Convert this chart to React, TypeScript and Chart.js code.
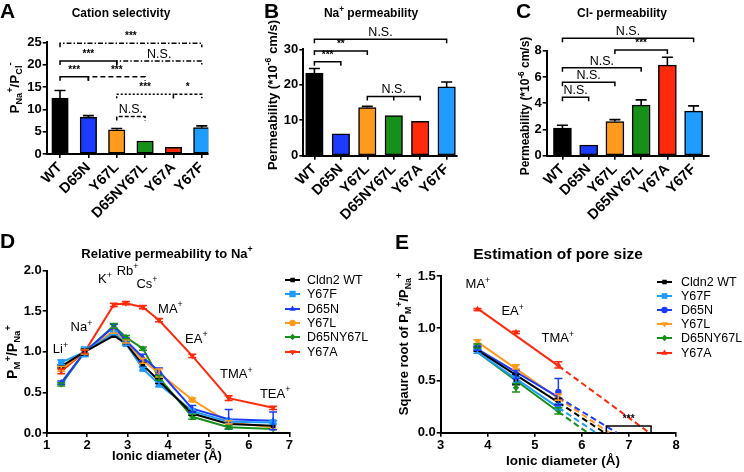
import React, { useEffect, useRef } from 'react';
import { Chart, registerables } from 'chart.js';

Chart.register(...registerables);

const FONT = 'Arial, "Liberation Sans", Helvetica, sans-serif';
const W = 744;
const H = 472;

// ---------- categories ----------
const MUTANTS = ['WT', 'D65N', 'Y67L', 'D65NY67L', 'Y67A', 'Y67F'];
const MUTANT_COLORS = ['#000000', '#1b3cff', '#ff9a1c', '#17901a', '#ff2a0c', '#1e9cff'];

// ---------- panel A: cation selectivity ----------
const SELECTIVITY = [12.5, 8.2, 5.4, 2.9, 1.5, 5.9];
const SELECTIVITY_TOP = [14.2, 8.6, 5.7, 3.1, 1.6, 6.3];

// ---------- panel B: Na permeability ----------
const NA_PERM = [23.3, 6.2, 13.6, 11.3, 9.7, 19.4];
const NA_PERM_TOP = [24.6, 6.3, 13.9, 11.5, 9.9, 20.8];

// ---------- panel C: Cl permeability ----------
const CL_PERM = [2.1, 0.8, 2.6, 3.85, 6.9, 3.4];
const CL_PERM_TOP = [2.32, 0.85, 2.75, 4.25, 7.5, 3.8];

type Bracket = { from: number; to: number; level: number; label: string; dash: number[]; mid?: number };

const SEL_BRACKETS: Bracket[] = [
  { from: 0, to: 5, level: 24.8, label: '***', dash: [5, 2, 1.5, 2] },
  { from: 0, to: 2, level: 20.8, label: '***', dash: [] },
  { from: 2, to: 5, level: 20.8, label: 'N.S.', dash: [5, 2, 1.5, 2] },
  { from: 0, to: 1, level: 17.3, label: '***', dash: [] },
  { from: 1, to: 3, level: 17.3, label: '***', dash: [5, 3] },
  { from: 2, to: 4, level: 13.4, label: '***', dash: [2, 2] },
  { from: 4, to: 5, level: 13.4, label: '*', dash: [3, 2] },
  { from: 2, to: 3, level: 8.4, label: 'N.S.', dash: [4, 2] },
];
const NA_BRACKETS: Bracket[] = [
  { from: 0, to: 5, level: 32.8, label: 'N.S.', dash: [] },
  { from: 0, to: 2, level: 29.5, label: '**', dash: [] },
  { from: 0, to: 1, level: 26.5, label: '***', dash: [] },
  { from: 2, to: 4, level: 16.7, label: 'N.S.', dash: [], mid: 3 },
];
const CL_BRACKETS: Bracket[] = [
  { from: 0, to: 5, level: 8.94, label: 'N.S.', dash: [] },
  { from: 2, to: 4, level: 8.05, label: '***', dash: [] },
  { from: 0, to: 3, level: 6.7, label: 'N.S.', dash: [] },
  { from: 0, to: 2, level: 5.6, label: 'N.S.', dash: [] },
  { from: 0, to: 1, level: 4.45, label: 'N.S.', dash: [] },
];

// ---------- panel D: relative permeability ----------
const SERIES = ['Cldn2 WT', 'Y67F', 'D65N', 'Y67L', 'D65NY67L', 'Y67A'];
const SERIES_COLORS = ['#000000', '#1e9cff', '#1b3cff', '#ff9a1c', '#17901a', '#ff2a0c'];
const IONS = ['Li', 'Na', 'K', 'Rb', 'Cs', 'MA', 'EA', 'TMA', 'TEA'];
const ION_DIAMETER = [1.36, 1.94, 2.66, 2.96, 3.38, 3.78, 4.6, 5.5, 6.6];
const REL_PERM = [
  [0.82, 1.0, 1.2, 1.1, 0.84, 0.64, 0.24, 0.11, 0.09],
  [0.87, 1.0, 1.23, 1.1, 0.79, 0.6, 0.27, 0.14, 0.13],
  [0.62, 1.0, 1.31, 1.14, 0.93, 0.76, 0.3, 0.17, 0.15],
  [0.79, 1.0, 1.26, 1.13, 0.89, 0.74, 0.41, 0.13, 0.07],
  [0.6, 1.0, 1.32, 1.18, 1.04, 0.68, 0.2, 0.07, 0.05],
  [0.76, 1.0, 1.58, 1.6, 1.55, 1.39, 0.95, 0.43, 0.31],
];
const REL_PERM_ERR = [
  [0.02, 0.04, 0.02, 0.02, 0.03, 0.03, 0.02, 0.01, 0.01],
  [0.03, 0.06, 0.02, 0.02, 0.02, 0.03, 0.03, 0.02, 0.02],
  [0.02, 0.03, 0.03, 0.03, 0.04, 0.04, 0.04, 0.12, 0.11],
  [0.03, 0.03, 0.03, 0.02, 0.03, 0.05, 0.02, 0.02, 0.01],
  [0.02, 0.02, 0.03, 0.02, 0.02, 0.03, 0.03, 0.02, 0.01],
  [0.03, 0.02, 0.02, 0.02, 0.02, 0.02, 0.02, 0.03, 0.02],
];
// ion label anchors (data coordinates)
const ION_LABEL_X = [1.34, 1.86, 2.44, 3.0, 3.48, 4.06, 4.7, 5.69, 6.65];
const ION_LABEL_Y = [1.04, 1.31, 1.9, 2.01, 1.85, 1.54, 1.17, 0.73, 0.49];

// ---------- panel E: pore size ----------
const PORE_IONS = ['MA', 'EA', 'TMA'];
const PORE_X = [3.78, 4.6, 5.5];
const SQRT_PERM = [
  [0.8, 0.51, 0.3],
  [0.78, 0.5, 0.25],
  [0.81, 0.56, 0.39],
  [0.87, 0.63, 0.34],
  [0.83, 0.43, 0.21],
  [1.18, 0.96, 0.65],
];
const SQRT_PERM_ERR = [
  [0.02, 0.05, 0.03],
  [0.02, 0.03, 0.03],
  [0.02, 0.04, 0.13],
  [0.02, 0.02, 0.03],
  [0.02, 0.04, 0.03],
  [0.01, 0.01, 0.03],
];
const FIT_START = [0.79, 0.77, 0.8, 0.87, 0.77, 1.19];
const FIT_END = [0.29, 0.24, 0.34, 0.33, 0.2, 0.64];
const FIT_X0 = [6.48, 6.3, 6.74, 6.58, 6.12, 7.43];
const PORE_LABEL_X = [3.79, 4.53, 5.49];
const PORE_LABEL_Y = [1.43, 1.17, 0.91];
const PORE_BRACKET = { from: 6.52, to: 7.47, level: 0.065, label: '***' };

// ---------- helpers ----------
type Seg = { t: string; k: 'n' | 'sup' | 'sub' };
function parseRich(s: string): Seg[] {
  const out: Seg[] = [];
  const re = /([_^])\{([^}]*)\}/g;
  let last = 0;
  let m: RegExpExecArray | null;
  while ((m = re.exec(s))) {
    if (m.index > last) out.push({ t: s.slice(last, m.index), k: 'n' });
    out.push({ t: m[2], k: m[1] === '^' ? 'sup' : 'sub' });
    last = re.lastIndex;
  }
  if (last < s.length) out.push({ t: s.slice(last), k: 'n' });
  return out;
}

function drawRich(
  ctx: CanvasRenderingContext2D,
  text: string,
  x: number,
  y: number,
  size: number,
  bold: boolean,
  align: 'left' | 'center' | 'right' = 'center'
) {
  const segs = parseRich(text);
  const sm = size * 0.68;
  const font = (s: number) => `${bold ? 'bold ' : ''}${s}px ${FONT}`;
  let w = 0;
  for (const g of segs) {
    ctx.font = font(g.k === 'n' ? size : sm);
    w += ctx.measureText(g.t).width;
  }
  let cx = align === 'center' ? x - w / 2 : align === 'right' ? x - w : x;
  const base = y + size * 0.36;
  ctx.textAlign = 'left';
  ctx.textBaseline = 'alphabetic';
  ctx.fillStyle = '#000';
  for (const g of segs) {
    const s = g.k === 'n' ? size : sm;
    ctx.font = font(s);
    const dy = g.k === 'sup' ? -size * 0.42 : g.k === 'sub' ? size * 0.24 : 0;
    ctx.fillText(g.t, cx, base + dy);
    cx += ctx.measureText(g.t).width;
  }
}

function drawRotated(ctx: CanvasRenderingContext2D, text: string, x: number, y: number, size: number) {
  ctx.save();
  ctx.translate(x, y);
  ctx.rotate(-Math.PI / 2);
  drawRich(ctx, text, 0, 0, size, true, 'center');
  ctx.restore();
}

function drawLetter(ctx: CanvasRenderingContext2D, letter: string, x: number, baseline: number) {
  ctx.save();
  ctx.font = `bold 21px ${FONT}`;
  ctx.fillStyle = '#000';
  ctx.textAlign = 'left';
  ctx.textBaseline = 'alphabetic';
  ctx.fillText(letter, x, baseline);
  ctx.restore();
}

type Marker = { style: string; r: number; rot?: number };

function drawMarker(ctx: CanvasRenderingContext2D, m: Marker, x: number, y: number, color: string) {
  const r = m.r;
  ctx.save();
  ctx.fillStyle = color;
  ctx.beginPath();
  if (m.style === 'rect') {
    const s = r * Math.SQRT1_2;
    ctx.rect(x - s, y - s, 2 * s, 2 * s);
  } else if (m.style === 'circle') {
    ctx.arc(x, y, r, 0, Math.PI * 2);
  } else if (m.style === 'rectRot') {
    ctx.moveTo(x, y - r);
    ctx.lineTo(x + r, y);
    ctx.lineTo(x, y + r);
    ctx.lineTo(x - r, y);
    ctx.closePath();
  } else {
    const down = (m.rot || 0) === 180 ? -1 : 1;
    ctx.moveTo(x, y - down * r);
    ctx.lineTo(x + r * 0.87, y + down * r * 0.5);
    ctx.lineTo(x - r * 0.87, y + down * r * 0.5);
    ctx.closePath();
  }
  ctx.fill();
  ctx.restore();
}

const D_MARKERS: Marker[] = [
  { style: 'rect', r: 3.2 },
  { style: 'rect', r: 4.5 },
  { style: 'triangle', r: 3.6 },
  { style: 'circle', r: 3.2 },
  { style: 'rectRot', r: 3.2 },
  { style: 'triangle', r: 3.6, rot: 180 },
];
const E_MARKERS: Marker[] = [
  { style: 'rect', r: 3.2 },
  { style: 'rect', r: 4 },
  { style: 'circle', r: 3.2 },
  { style: 'triangle', r: 3.6, rot: 180 },
  { style: 'rectRot', r: 3.2 },
  { style: 'triangle', r: 3.6 },
];

const tickFont = (size: number) => ({ family: FONT, size, weight: 'bold' as const });
const axisGrid = { drawOnChartArea: false, drawTicks: true, tickLength: 4, color: '#000', lineWidth: 1.6 };
const axisBorder = { color: '#000', width: 2 };

function drawBracketLine(
  ctx: CanvasRenderingContext2D,
  x1: number,
  x2: number,
  y: number,
  dash: number[],
  drop: number
) {
  ctx.save();
  ctx.strokeStyle = '#000';
  ctx.lineWidth = 1.5;
  ctx.setLineDash(dash);
  ctx.beginPath();
  ctx.moveTo(x1, y + drop);
  ctx.lineTo(x1, y);
  ctx.lineTo(x2, y);
  ctx.lineTo(x2, y + drop);
  ctx.stroke();
  ctx.restore();
}

function drawSigLabel(ctx: CanvasRenderingContext2D, label: string, x: number, y: number) {
  ctx.save();
  ctx.fillStyle = '#000';
  ctx.textAlign = 'center';
  ctx.textBaseline = 'alphabetic';
  if (label === 'N.S.') {
    ctx.font = `12.5px ${FONT}`;
    ctx.fillText(label, x, y - 3);
  } else {
    ctx.font = `bold 10px ${FONT}`;
    ctx.fillText(label, x, y + 4);
  }
  ctx.restore();
}

type Area = { l: number; r: number; t: number; b: number };

type BarPanel = {
  values: number[];
  tops: number[];
  brackets: Bracket[];
  area: Area;
  yMax: number;
  yStep: number;
  xMin: number;
  xMax: number;
  barW: number;
  title: string;
  titleX: number;
  letter: string;
  letterX: number;
  yTitle: string;
  yTitleX: number;
  yTitleY: number;
  yTitleSize: number;
};

function barConfig(p: BarPanel): any {
  const decor = {
    id: 'decor' + p.letter,
    afterDatasetsDraw(chart: any) {
      const ctx: CanvasRenderingContext2D = chart.ctx;
      const xs = chart.scales.x;
      const ys = chart.scales.y;
      ctx.save();
      ctx.strokeStyle = '#000';
      ctx.lineWidth = 1.6;
      p.values.forEach((v, i) => {
        const x = xs.getPixelForValue(i);
        const y0 = ys.getPixelForValue(v);
        const y1 = ys.getPixelForValue(p.tops[i]);
        if (y0 - y1 < 1) return;
        ctx.beginPath();
        ctx.moveTo(x, y0);
        ctx.lineTo(x, y1);
        ctx.moveTo(x - 5.5, y1);
        ctx.lineTo(x + 5.5, y1);
        ctx.stroke();
      });
      ctx.restore();
    },
    afterDraw(chart: any) {
      const ctx: CanvasRenderingContext2D = chart.ctx;
      const xs = chart.scales.x;
      const ys = chart.scales.y;
      for (const b of p.brackets) {
        const x1 = xs.getPixelForValue(b.from);
        const x2 = xs.getPixelForValue(b.to);
        const y = ys.getPixelForValue(b.level);
        drawBracketLine(ctx, x1, x2, y, b.dash, 4);
        if (b.mid !== undefined) {
          const xm = xs.getPixelForValue(b.mid);
          ctx.save();
          ctx.strokeStyle = '#000';
          ctx.lineWidth = 1.5;
          ctx.beginPath();
          ctx.moveTo(xm, y);
          ctx.lineTo(xm, y + 4);
          ctx.stroke();
          ctx.restore();
        }
        drawSigLabel(ctx, b.label, (x1 + x2) / 2, y - (b.label === 'N.S.' ? 0 : 8));
      }
      drawRich(ctx, p.title, p.titleX, 13, 12, true, 'center');
      drawLetter(ctx, p.letter, p.letterX, 18);
      drawRotated(ctx, p.yTitle, p.yTitleX, p.yTitleY, p.yTitleSize);
    },
  };
  return {
    type: 'bar',
    data: {
      datasets: [
        {
          data: p.values.map((v, i) => ({ x: i, y: v })),
          backgroundColor: MUTANT_COLORS,
          borderColor: '#000',
          borderWidth: 1.5,
          borderSkipped: false,
          barThickness: p.barW,
        },
      ],
    },
    options: {
      responsive: false,
      animation: false,
      events: [],
      layout: { padding: { left: 0, top: p.area.t, right: W - p.area.r, bottom: 0 } },
      plugins: { legend: { display: false }, tooltip: { enabled: false } },
      scales: {
        x: {
          type: 'linear',
          min: p.xMin,
          max: p.xMax,
          offset: false,
          afterBuildTicks: (s: any) => {
            s.ticks = MUTANTS.map((_, i) => ({ value: i }));
          },
          afterFit: (s: any) => {
            s.height = H - p.area.b;
          },
          grid: { ...axisGrid, offset: false },
          border: axisBorder,
          ticks: {
            autoSkip: false,
            minRotation: 45,
            maxRotation: 45,
            padding: 1,
            color: '#000',
            font: tickFont(14.5),
            callback: (v: number) => MUTANTS[v] ?? '',
          },
        },
        y: {
          min: 0,
          max: p.yMax,
          afterFit: (s: any) => {
            s.width = p.area.l;
          },
          grid: axisGrid,
          border: axisBorder,
          ticks: { stepSize: p.yStep, padding: 1, color: '#000', font: tickFont(13) },
        },
      },
    },
    plugins: [decor],
  };
}

function drawLegend(ctx: CanvasRenderingContext2D, markers: Marker[], lineX: number, textX: number, rows: number[]) {
  SERIES.forEach((name, i) => {
    const y = rows[i];
    ctx.save();
    ctx.strokeStyle = SERIES_COLORS[i];
    ctx.lineWidth = 2;
    ctx.beginPath();
    ctx.moveTo(lineX, y);
    ctx.lineTo(lineX + 15, y);
    ctx.stroke();
    ctx.restore();
    drawMarker(ctx, markers[i], lineX + 7.5, y, SERIES_COLORS[i]);
    ctx.save();
    ctx.font = `12.5px ${FONT}`;
    ctx.fillStyle = '#000';
    ctx.textAlign = 'left';
    ctx.textBaseline = 'middle';
    ctx.fillText(name, textX, y + 0.5);
    ctx.restore();
  });
}

function drawErrorBars(
  ctx: CanvasRenderingContext2D,
  xs: any,
  ys: any,
  xv: number[],
  vals: number[],
  errs: number[],
  color: string
) {
  ctx.save();
  ctx.strokeStyle = color;
  ctx.lineWidth = 1.5;
  vals.forEach((v, j) => {
    const x = xs.getPixelForValue(xv[j]);
    const y1 = ys.getPixelForValue(v + errs[j]);
    const y2 = ys.getPixelForValue(v - errs[j]);
    if (y2 - y1 < 2) return;
    ctx.beginPath();
    ctx.moveTo(x, y1);
    ctx.lineTo(x, y2);
    ctx.moveTo(x - 4, y1);
    ctx.lineTo(x + 4, y1);
    ctx.moveTo(x - 4, y2);
    ctx.lineTo(x + 4, y2);
    ctx.stroke();
  });
  ctx.restore();
}

const markerOpts = (m: Marker) => ({
  pointStyle: m.style,
  pointRadius: m.r,
  pointRotation: m.rot || 0,
  pointBorderWidth: 0,
});

function relConfig(): any {
  const area: Area = { l: 46.7, r: 289.3, t: 270.7, b: 433 };
  const decor = {
    id: 'decorD',
    afterDatasetsDraw(chart: any) {
      const ctx = chart.ctx;
      REL_PERM.forEach((vals, i) =>
        drawErrorBars(ctx, chart.scales.x, chart.scales.y, ION_DIAMETER, vals, REL_PERM_ERR[i], SERIES_COLORS[i])
      );
    },
    afterDraw(chart: any) {
      const ctx: CanvasRenderingContext2D = chart.ctx;
      const xs = chart.scales.x;
      const ys = chart.scales.y;
      IONS.forEach((ion, i) => {
        drawRich(ctx, ion + '^{+}', xs.getPixelForValue(ION_LABEL_X[i]), ys.getPixelForValue(ION_LABEL_Y[i]), 13, false);
      });
      drawRich(ctx, 'Relative permeability to Na^{+}', 167, 253, 13, true);
      drawRich(ctx, 'Ionic diameter (Å)', 167, 455, 13, true);
      drawRotated(ctx, 'P_{M}^{+}/P_{Na}^{+}', 12, 352, 14);
      drawLetter(ctx, 'D', 0, 248);
      drawLegend(ctx, D_MARKERS, 285, 307, [280, 294, 309, 323, 337, 352]);
    },
  };
  return {
    type: 'line',
    data: {
      datasets: REL_PERM.map((vals, i) => ({
        label: SERIES[i],
        data: vals.map((v, j) => ({ x: ION_DIAMETER[j], y: v })),
        borderColor: SERIES_COLORS[i],
        backgroundColor: SERIES_COLORS[i],
        pointBackgroundColor: SERIES_COLORS[i],
        borderWidth: 2,
        tension: 0,
        ...markerOpts(D_MARKERS[i]),
      })),
    },
    options: {
      responsive: false,
      animation: false,
      events: [],
      layout: { padding: { left: 0, top: area.t, right: W - area.r, bottom: 0 } },
      plugins: { legend: { display: false }, tooltip: { enabled: false } },
      scales: {
        x: {
          type: 'linear',
          min: 1,
          max: 7,
          afterFit: (s: any) => {
            s.height = H - area.b;
          },
          grid: axisGrid,
          border: axisBorder,
          ticks: { stepSize: 1, padding: 1, color: '#000', font: tickFont(13) },
        },
        y: {
          type: 'linear',
          min: 0,
          max: 2,
          afterFit: (s: any) => {
            s.width = area.l;
          },
          grid: axisGrid,
          border: axisBorder,
          ticks: { stepSize: 0.5, padding: 1, color: '#000', font: tickFont(13), callback: (v: number) => v.toFixed(1) },
        },
      },
    },
    plugins: [decor],
  };
}

function poreConfig(): any {
  const area: Area = { l: 440.7, r: 676, t: 276, b: 432.7 };
  const datasets: any[] = [];
  SQRT_PERM.forEach((vals, i) => {
    datasets.push({
      data: vals.map((v, j) => ({ x: PORE_X[j], y: v })),
      showLine: false,
      borderColor: SERIES_COLORS[i],
      backgroundColor: SERIES_COLORS[i],
      pointBackgroundColor: SERIES_COLORS[i],
      ...markerOpts(E_MARKERS[i]),
    });
    datasets.push({
      data: [
        { x: PORE_X[0], y: FIT_START[i] },
        { x: PORE_X[2], y: FIT_END[i] },
      ],
      borderColor: SERIES_COLORS[i],
      borderWidth: 2,
      pointRadius: 0,
    });
    datasets.push({
      data: [
        { x: PORE_X[2], y: FIT_END[i] },
        { x: FIT_X0[i], y: 0 },
      ],
      borderColor: SERIES_COLORS[i],
      borderWidth: 2,
      borderDash: [6, 3.5],
      pointRadius: 0,
    });
  });
  const decor = {
    id: 'decorE',
    afterDatasetsDraw(chart: any) {
      const ctx = chart.ctx;
      SQRT_PERM.forEach((vals, i) =>
        drawErrorBars(ctx, chart.scales.x, chart.scales.y, PORE_X, vals, SQRT_PERM_ERR[i], SERIES_COLORS[i])
      );
    },
    afterDraw(chart: any) {
      const ctx: CanvasRenderingContext2D = chart.ctx;
      const xs = chart.scales.x;
      const ys = chart.scales.y;
      PORE_IONS.forEach((ion, i) => {
        drawRich(ctx, ion + '^{+}', xs.getPixelForValue(PORE_LABEL_X[i]), ys.getPixelForValue(PORE_LABEL_Y[i]), 13, false);
      });
      const x1 = xs.getPixelForValue(PORE_BRACKET.from);
      const x2 = xs.getPixelForValue(PORE_BRACKET.to);
      const yb = ys.getPixelForValue(PORE_BRACKET.level);
      const y0 = ys.getPixelForValue(0);
      drawBracketLine(ctx, x1, x2, yb, [], y0 - yb);
      drawSigLabel(ctx, PORE_BRACKET.label, (x1 + x2) / 2, yb - 8);
      drawRich(ctx, 'Estimation of pore size', 558, 253, 15.5, true);
      drawRich(ctx, 'Ionic diameter (Å)', 563, 460, 13.5, true);
      drawRotated(ctx, 'Sqaure root of P_{M}^{+}/P_{Na}^{+}', 403, 344, 13);
      drawLetter(ctx, 'E', 395, 249);
      drawLegend(ctx, E_MARKERS, 657, 681, [282, 296, 310, 324, 338, 353]);
    },
  };
  return {
    type: 'line',
    data: { datasets },
    options: {
      responsive: false,
      animation: false,
      events: [],
      layout: { padding: { left: 0, top: area.t, right: W - area.r, bottom: 0 } },
      plugins: { legend: { display: false }, tooltip: { enabled: false } },
      scales: {
        x: {
          type: 'linear',
          min: 3,
          max: 8,
          afterFit: (s: any) => {
            s.height = H - area.b;
          },
          grid: axisGrid,
          border: axisBorder,
          ticks: { stepSize: 1, padding: 1, color: '#000', font: tickFont(13) },
        },
        y: {
          type: 'linear',
          min: 0,
          max: 1.5,
          afterFit: (s: any) => {
            s.width = area.l;
          },
          grid: axisGrid,
          border: axisBorder,
          ticks: { stepSize: 0.5, padding: 1, color: '#000', font: tickFont(13), callback: (v: number) => v.toFixed(1) },
        },
      },
    },
    plugins: [decor],
  };
}

const PANEL_A: BarPanel = {
  values: SELECTIVITY,
  tops: SELECTIVITY_TOP,
  brackets: SEL_BRACKETS,
  area: { l: 46.7, r: 208.3, t: 42.3, b: 154 },
  yMax: 25,
  yStep: 5,
  xMin: -0.47,
  xMax: 5.23,
  barW: 16.5,
  title: 'Cation selectivity',
  titleX: 121,
  letter: 'A',
  letterX: 0,
  yTitle: 'P_{Na}^{+}/P_{Cl}^{-}',
  yTitleX: 14,
  yTitleY: 88,
  yTitleSize: 13.5,
};
const PANEL_B: BarPanel = {
  values: NA_PERM,
  tops: NA_PERM_TOP,
  brackets: NA_BRACKETS,
  area: { l: 303.3, r: 456.7, t: 49.3, b: 155.7 },
  yMax: 30,
  yStep: 10,
  xMin: -0.42,
  xMax: 5.38,
  barW: 17.5,
  title: 'Na^{+} permeability',
  titleX: 371,
  letter: 'B',
  letterX: 264,
  yTitle: 'Permeability (*10^{-6} cm/s)',
  yTitleX: 272,
  yTitleY: 95,
  yTitleSize: 13,
};
const PANEL_C: BarPanel = {
  values: CL_PERM,
  tops: CL_PERM_TOP,
  brackets: CL_BRACKETS,
  area: { l: 546.7, r: 708.3, t: 50.7, b: 155.7 },
  yMax: 8,
  yStep: 2,
  xMin: -0.6,
  xMax: 5.56,
  barW: 18,
  title: 'Cl- permeability',
  titleX: 622,
  letter: 'C',
  letterX: 516,
  yTitle: 'Permeability (*10^{-6} cm/s)',
  yTitleX: 525,
  yTitleY: 106,
  yTitleSize: 12,
};

export default function App() {
  const r1 = useRef<HTMLCanvasElement>(null);
  const r2 = useRef<HTMLCanvasElement>(null);
  const r3 = useRef<HTMLCanvasElement>(null);
  const r4 = useRef<HTMLCanvasElement>(null);
  const r5 = useRef<HTMLCanvasElement>(null);
  const refs = [r1, r2, r3, r4, r5];

  useEffect(() => {
    document.body.style.margin = '0';
    const configs = [barConfig(PANEL_A), barConfig(PANEL_B), barConfig(PANEL_C), relConfig(), poreConfig()];
    const charts = configs.map((cfg, i) => new Chart(refs[i].current as HTMLCanvasElement, cfg));
    return () => charts.forEach((c) => c.destroy());
  }, []);

  return (
    <div style={{ position: 'absolute', left: 0, top: 0, width: W, height: H, background: '#fff' }}>
      {refs.map((r, i) => (
        <canvas
          key={i}
          ref={r}
          width={W}
          height={H}
          style={{ position: 'absolute', left: 0, top: 0, width: W, height: H }}
        />
      ))}
    </div>
  );
}
